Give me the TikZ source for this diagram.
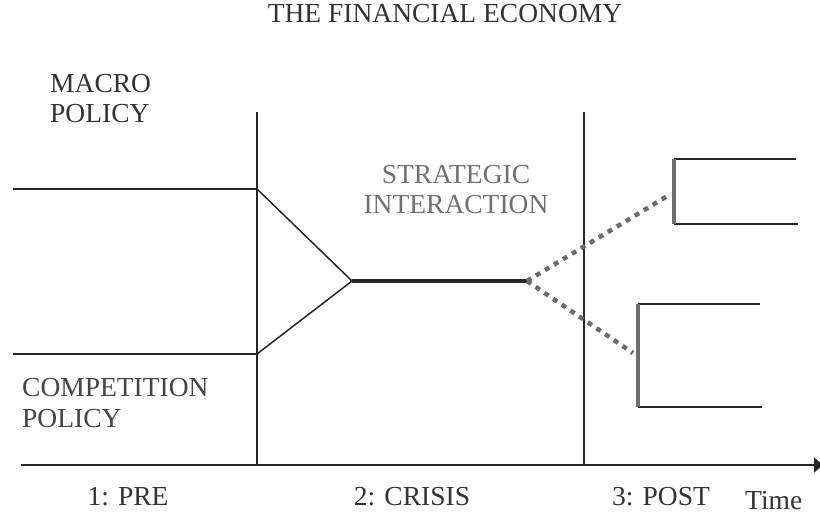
\documentclass[tikz,border=0pt]{standalone}
\usepackage{fontspec}
\setmainfont{Liberation Serif}
\usetikzlibrary{arrows.meta}
\definecolor{ink}{HTML}{333333}
\definecolor{inkb}{HTML}{444444}
\definecolor{softgray}{HTML}{707070}
\definecolor{dotgray}{HTML}{6B6B6B}
\definecolor{bargray}{HTML}{6E6E6E}
\begin{document}
\begin{tikzpicture}[x=1pt,y=-1pt,
  lbl/.style={inner sep=0pt, font=\fontsize{27.5}{30}\selectfont, text=ink},
  thinline/.style={draw=black!85, line width=1.5pt},
  thickline/.style={draw=black!85, line width=3.5pt},
  dotline/.style={draw=dotgray, line width=4.5pt, dash pattern=on 5pt off 5.5pt},
  graybar/.style={draw=bargray, line width=4.5pt},
  axisline/.style={draw=black!85, line width=2pt, -{Triangle[length=9pt,width=15pt]}}]
\useasboundingbox (0,0) rectangle (820,514);
% text
\node[lbl, anchor=base] (title) at (445,22) {THE FINANCIAL ECONOMY};
\node[lbl, anchor=base west] (macroA) at (50,92) {MACRO};
\node[lbl, anchor=base west] (macroB) at (50,122) {POLICY};
\node[lbl, anchor=base, text=softgray] (stratA) at (456,183) {STRATEGIC};
\node[lbl, anchor=base, text=softgray] (stratB) at (456,213) {INTERACTION};
\node[lbl, anchor=base west, text=inkb] (compA) at (22,396) {COMPETITION};
\node[lbl, anchor=base west, text=inkb] (compB) at (22,427) {POLICY};
\node[lbl, anchor=base] (pre) at (128,505) {1: PRE};
\node[lbl, anchor=base] (crisis) at (412,505) {2: CRISIS};
\node[lbl, anchor=base] (post) at (661,505) {3: POST};
\node[lbl, anchor=base west] (time) at (745,509) {Time};
% coordinates
\coordinate (v1t) at (257,112);
\coordinate (v1b) at (257,465);
\coordinate (v2t) at (584,112);
\coordinate (v2b) at (584,465);
\coordinate (ax0) at (21,465);
\coordinate (ax1) at (823,465);
\coordinate (m0) at (13,189);
\coordinate (m1) at (257,189);
\coordinate (c0) at (13,354);
\coordinate (c1) at (257,354);
\coordinate (apex) at (352,281);
\coordinate (split) at (527,281);
\coordinate (upend) at (669,195);
\coordinate (loend) at (633,353);
\coordinate (ubt) at (674,159);
\coordinate (ubb) at (674,224);
\coordinate (ubtr) at (796,159);
\coordinate (ubbr) at (798,224);
\coordinate (lbt) at (638,304);
\coordinate (lbb) at (638,407);
\coordinate (lbtr) at (760,304);
\coordinate (lbbr) at (762,407);
% lines
\draw[thinline] (v1t) -- (v1b);
\draw[thinline] (v2t) -- (v2b);
\draw[axisline] (ax0) -- (ax1);
\draw[thinline] (m0) -- (m1);
\draw[thinline] (c0) -- (c1);
\draw[thinline] (m1) -- (apex);
\draw[thinline] (c1) -- (apex);
\draw[thickline] (apex) -- (split);
\draw[dotline] (split) -- (upend);
\draw[dotline] (split) -- (loend);
\draw[thinline] (ubt) -- (ubtr);
\draw[thinline] (ubb) -- (ubbr);
\draw[graybar] (ubt) -- (ubb);
\draw[thinline] (lbt) -- (lbtr);
\draw[thinline] (lbb) -- (lbbr);
\draw[graybar] (lbt) -- (lbb);
\end{tikzpicture}
\end{document}
